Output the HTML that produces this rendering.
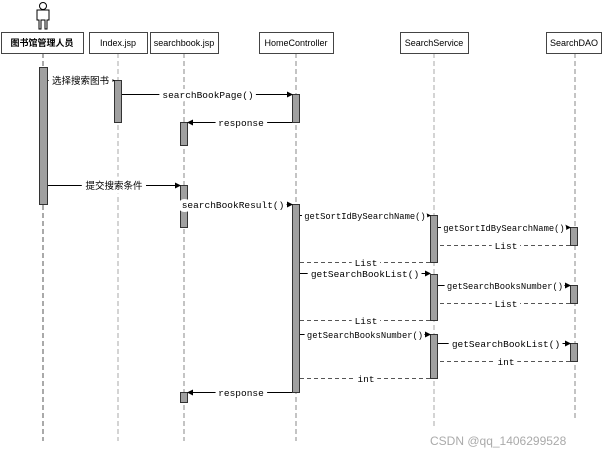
<!DOCTYPE html>
<html><head><meta charset="utf-8"><style>
html,body{margin:0;padding:0;background:#fff;}
svg{display:block}
text{font-family:"Liberation Mono","Noto Sans CJK SC",monospace;font-size:9.5px;fill:#000;}
.l{paint-order:stroke;stroke:#fff;stroke-width:8px;stroke-linejoin:round;}
.s{font-size:8.8px;stroke-width:6px;}
.h{font-family:"Liberation Sans","Noto Sans CJK SC",sans-serif;font-size:9px;}
</style></head><body>
<svg width="605" height="458" viewBox="0 0 605 458">
<defs><marker id="a" markerWidth="6" markerHeight="6" refX="5" refY="3" orient="auto"><path d="M0,0L6,3L0,6z" fill="#000"/></marker></defs>
<g stroke="#000" fill="none" stroke-width="1">
<circle cx="43" cy="6" r="3.5"/>
<path d="M37,10h12v10h-2v9h-2v-9h-4v9h-2v-9h-2z"/>
</g>
<g stroke="#888" stroke-dasharray="5,3" stroke-width="1">
<line x1="43" y1="53" x2="43" y2="441" stroke="#555"/>
<line x1="118" y1="53" x2="118" y2="441" stroke="#aaa"/>
<line x1="184" y1="53" x2="184" y2="441"/>
<line x1="296" y1="53" x2="296" y2="441"/>
<line x1="434" y1="53" x2="434" y2="427" stroke="#aaa"/>
<line x1="575" y1="53" x2="575" y2="420"/>
</g>
<g fill="#fff" stroke="#444">
<rect x="1.5" y="32.5" width="82" height="21"/>
<rect x="89.5" y="32.5" width="58" height="21"/>
<rect x="150.5" y="32.5" width="68" height="21"/>
<rect x="259.5" y="32.5" width="74" height="21"/>
<rect x="400.5" y="32.5" width="68" height="21"/>
<rect x="546.5" y="32.5" width="55" height="21"/>
</g>
<text class="h" x="42" y="46" text-anchor="middle" font-weight="bold">图书馆管理人员</text>
<text class="h" x="118" y="46" text-anchor="middle">Index.jsp</text>
<text class="h" x="184" y="46" text-anchor="middle">searchbook.jsp</text>
<text class="h" x="296" y="46" text-anchor="middle" font-size="8.5">HomeController</text>
<text class="h" x="434" y="46" text-anchor="middle">SearchService</text>
<text class="h" x="574" y="46" text-anchor="middle">SearchDAO</text>
<g fill="#a0a0a0" stroke="#333">
<rect x="39.5" y="67.5" width="8" height="137"/>
<rect x="114.5" y="80.5" width="7" height="42"/>
<rect x="292.5" y="94.5" width="7" height="28"/>
<rect x="180.5" y="122.5" width="7" height="23"/>
<rect x="180.5" y="185.5" width="7" height="42"/>
<rect x="292.5" y="204.5" width="7" height="188"/>
<rect x="430.5" y="215.5" width="7" height="47"/>
<rect x="430.5" y="274.5" width="7" height="46"/>
<rect x="430.5" y="334.5" width="7" height="44"/>
<rect x="570.5" y="227.5" width="7" height="18"/>
<rect x="570.5" y="285.5" width="7" height="18"/>
<rect x="570.5" y="343.5" width="7" height="18"/>
<rect x="180.5" y="392.5" width="7" height="10"/>
</g>
<g stroke="#000" stroke-width="1" marker-end="url(#a)">
<line x1="48" y1="80.5" x2="114" y2="80.5"/>
<line x1="122" y1="94.5" x2="292" y2="94.5"/>
<line x1="292" y1="122.5" x2="188" y2="122.5"/>
<line x1="48" y1="185.5" x2="180" y2="185.5"/>
<line x1="188" y1="204.5" x2="292" y2="204.5"/>
<line x1="300" y1="215.5" x2="430" y2="215.5"/>
<line x1="438" y1="227.5" x2="570" y2="227.5"/>
<line x1="300" y1="273.5" x2="430" y2="273.5"/>
<line x1="438" y1="285.5" x2="570" y2="285.5"/>
<line x1="300" y1="334.5" x2="430" y2="334.5"/>
<line x1="438" y1="343.5" x2="570" y2="343.5"/>
<line x1="292" y1="392.5" x2="188" y2="392.5"/>
</g>
<g stroke="#555" stroke-dasharray="4,3">
<line x1="570" y1="245.5" x2="438" y2="245.5"/>
<line x1="430" y1="262.5" x2="300" y2="262.5"/>
<line x1="570" y1="303.5" x2="438" y2="303.5"/>
<line x1="430" y1="320.5" x2="300" y2="320.5"/>
<line x1="570" y1="361.5" x2="438" y2="361.5"/>
<line x1="430" y1="378.5" x2="300" y2="378.5"/>
</g>
<g>
<text class="l" x="52" y="84">选择搜索图书</text>
<text class="l" x="208" y="98" text-anchor="middle">searchBookPage()</text>
<text class="l" x="241" y="126" text-anchor="middle">response</text>
<text class="l" x="114" y="189" text-anchor="middle">提交搜索条件</text>
<text class="l" x="233" y="208" text-anchor="middle">searchBookResult()</text>
<text class="l s" x="365" y="219" text-anchor="middle">getSortIdBySearchName()</text>
<text class="l s" x="504" y="231" text-anchor="middle">getSortIdBySearchName()</text>
<text class="l" x="506" y="249" text-anchor="middle">List</text>
<text class="l" x="366" y="266" text-anchor="middle">List</text>
<text class="l" x="365" y="277" text-anchor="middle">getSearchBookList()</text>
<text class="l s" x="505" y="289" text-anchor="middle">getSearchBooksNumber()</text>
<text class="l" x="506" y="307" text-anchor="middle">List</text>
<text class="l" x="366" y="324" text-anchor="middle">List</text>
<text class="l s" x="365" y="338" text-anchor="middle">getSearchBooksNumber()</text>
<text class="l" x="506" y="347" text-anchor="middle">getSearchBookList()</text>
<text class="l" x="506" y="365" text-anchor="middle">int</text>
<text class="l" x="366" y="382" text-anchor="middle">int</text>
<text class="l" x="241" y="396" text-anchor="middle">response</text>
</g>
<text x="430" y="445" style="font-family:'Liberation Sans',sans-serif;font-size:12px;fill:#aaa">CSDN @qq_1406299528</text>
</svg>
</body></html>
